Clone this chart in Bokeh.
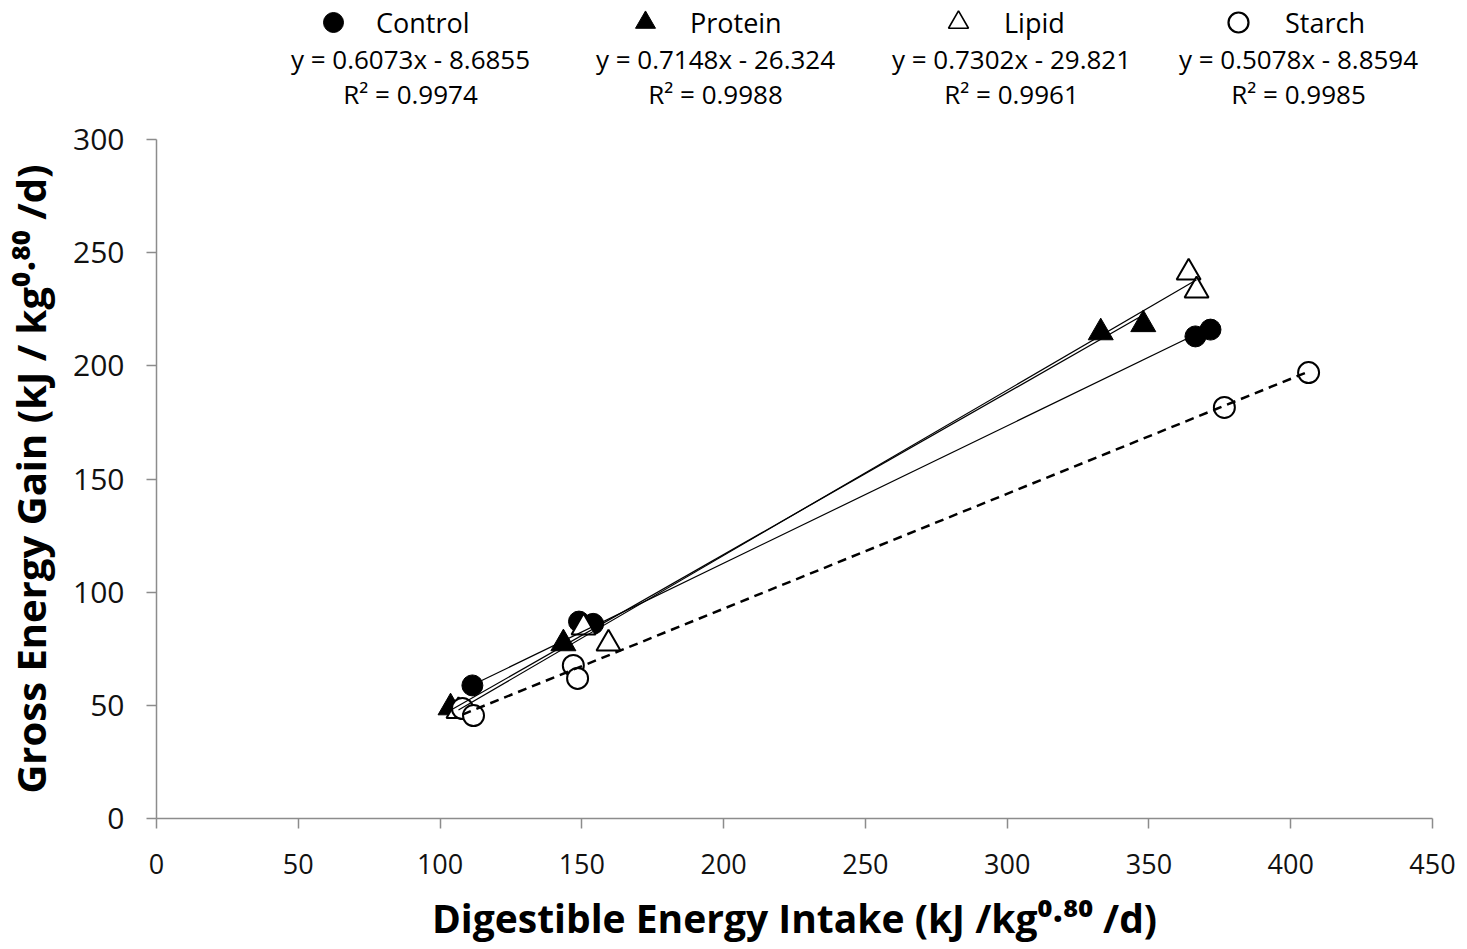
from bokeh.plotting import figure
from bokeh.layouts import column
from bokeh.models import Range1d, FixedTicker, Label, Legend, LegendItem
from bokeh.embed import file_html
from bokeh.resources import INLINE

# ---------------- data ----------------
series = ["Control", "Protein", "Lipid", "Starch"]
control_x = [111.4, 149.0, 154.0, 366.4, 371.7]
control_y = [58.8, 87.0, 86.0, 213.0, 216.0]
protein_x = [103.7, 143.5, 333.0, 348.0]
protein_y = [49.0, 77.3, 214.7, 218.3]
lipid_x = [106.5, 150.6, 159.4, 364.0, 366.8]
lipid_y = [47.5, 84.4, 77.3, 241.2, 233.3]
starch_x = [107.9, 111.8, 147.0, 148.5, 376.6, 406.3]
starch_y = [48.6, 45.5, 67.6, 61.9, 181.6, 197.0]
slopes = [0.6073, 0.7148, 0.7302, 0.5078]
intercepts = [-8.6855, -26.324, -29.821, -8.8594]
r_squared = [0.9974, 0.9988, 0.9961, 0.9985]
x_ticks = [0, 50, 100, 150, 200, 250, 300, 350, 400, 450]
y_ticks = [0, 50, 100, 150, 200, 250, 300]
x_title = "Digestible Energy Intake (kJ /kg\u2070\u00b7\u2078\u2070 /d)"
y_title = "Gross Energy Gain (kJ / kg\u2070\u00b7\u2078\u2070 /d)"

W, H = 1467, 949
T = 115                      # height of the header strip (legend + equations)
FL, FR, FT, FB = 156, 1432, 139, 818  # plot frame edges in page pixels

# ---------------- header: legend and regression equations ----------------
# (the column layout aligns this strip's frame with the main plot's frame,
#  so its x range is expressed in page pixels FL..FR)
top = figure(width=W, height=T, output_backend="svg", toolbar_location=None,
             x_range=Range1d(FL, FR), y_range=Range1d(T, 0),
             min_border_left=FL, min_border_right=W - FR, min_border_top=0, min_border_bottom=0,
             x_axis_location=None, y_axis_location=None)
top.outline_line_color = None
top.xgrid.visible = False
top.ygrid.visible = False

styles = [
    dict(marker="circle", fill_color="black", line_color="black", line_width=1),
    dict(marker="triangle", fill_color="black", line_color="black", line_width=1),
    dict(marker="triangle", fill_color="white", line_color="black", line_width=1.6),
    dict(marker="circle", fill_color="white", line_color="black", line_width=2.2),
]
leg_glyph_centers = [333, 645, 958, 1238]
leg_standoffs = [18, 20, 21, 22]
GL = 50
nan = float("nan")
for i in range(4):
    # legend-only renderer: a single NaN point, nothing is drawn in the strip
    r = top.scatter(x=[nan], y=[nan], size=10, **styles[i])
    lg = Legend(items=[LegendItem(label=series[i], renderers=[r])],
                location=(leg_glyph_centers[i] - GL / 2 - FL, T - 47),
                orientation="horizontal", padding=0, margin=0, spacing=0,
                glyph_width=GL, glyph_height=GL, label_standoff=leg_standoffs[i],
                label_text_font="Open Sans", label_text_font_size="27px",
                label_text_color="black",
                border_line_alpha=0, background_fill_alpha=0)
    top.add_layout(lg, "center")

eq_centers = [410, 715, 1011, 1298]
for i in range(4):
    sign = "-" if intercepts[i] < 0 else "+"
    eq = f"y = {slopes[i]:.4f}x {sign} {abs(intercepts[i]):g}"
    top.add_layout(Label(x=eq_centers[i], y=58, text=eq,
                         text_align="center", text_baseline="middle",
                         text_font="Open Sans", text_font_size="26px",
                         text_color="black"))
    top.add_layout(Label(x=eq_centers[i], y=93, text=f"R\u00b2 = {r_squared[i]:.4f}",
                         text_align="center", text_baseline="middle",
                         text_font="Open Sans", text_font_size="26px",
                         text_color="black"))

# ---------------- main scatter plot ----------------
p = figure(width=W, height=H - T, output_backend="svg", toolbar_location=None,
           x_range=Range1d(0, 450), y_range=Range1d(0, 300),
           min_border_left=FL, min_border_right=W - FR,
           min_border_top=FT - T, min_border_bottom=H - FB)
p.outline_line_color = None
p.xgrid.visible = False
p.ygrid.visible = False

for ax, ticks in ((p.xaxis[0], x_ticks), (p.yaxis[0], y_ticks)):
    ax.ticker = FixedTicker(ticks=ticks)
    ax.axis_line_color = "#8c8c8c"
    ax.axis_line_width = 1.5
    ax.major_tick_line_color = "#8c8c8c"
    ax.major_tick_line_width = 1.5
    ax.major_tick_out = 10
    ax.major_tick_in = 0
    ax.minor_tick_line_color = None
    ax.major_label_text_color = "#111111"
    ax.major_label_text_font = "Open Sans"
    ax.axis_label_text_font = "Open Sans"
    ax.axis_label_text_font_style = "bold"
    ax.axis_label_text_color = "black"

p.xaxis.major_label_text_font_size = "27px"
p.xaxis.major_label_standoff = 25
p.yaxis.major_label_text_font_size = "30px"
p.yaxis.major_label_standoff = 22
p.xaxis.axis_label = x_title
p.yaxis.axis_label = y_title
p.xaxis.axis_label_text_font_size = "39px"
p.yaxis.axis_label_text_font_size = "40px"
p.xaxis.axis_label_standoff = 14
p.yaxis.axis_label_standoff = 12

r_control = p.scatter(control_x, control_y, size=21, **styles[0])
r_protein = p.scatter(protein_x, protein_y, size=25, **styles[1])
r_lipid = p.scatter(lipid_x, lipid_y, size=24, marker="triangle",
                    fill_color="white", line_color="black", line_width=2)
r_starch = p.scatter(starch_x, starch_y, size=21, marker="circle",
                     fill_color="white", line_color="black", line_width=2)

# trendlines (Excel-style linear fits over each series' x range)
xs_all = [control_x, protein_x, lipid_x, starch_x]
for i, xs in enumerate(xs_all):
    lx = [min(xs), max(xs)]
    ly = [slopes[i] * v + intercepts[i] for v in lx]
    if series[i] == "Starch":
        p.line(lx, ly, line_color="black", line_width=2.5, line_dash="9 6")
    else:
        p.line(lx, ly, line_color="black", line_width=1.2)

layout = column(top, p, spacing=0)
open("out.html", "w").write(file_html(layout, INLINE))
